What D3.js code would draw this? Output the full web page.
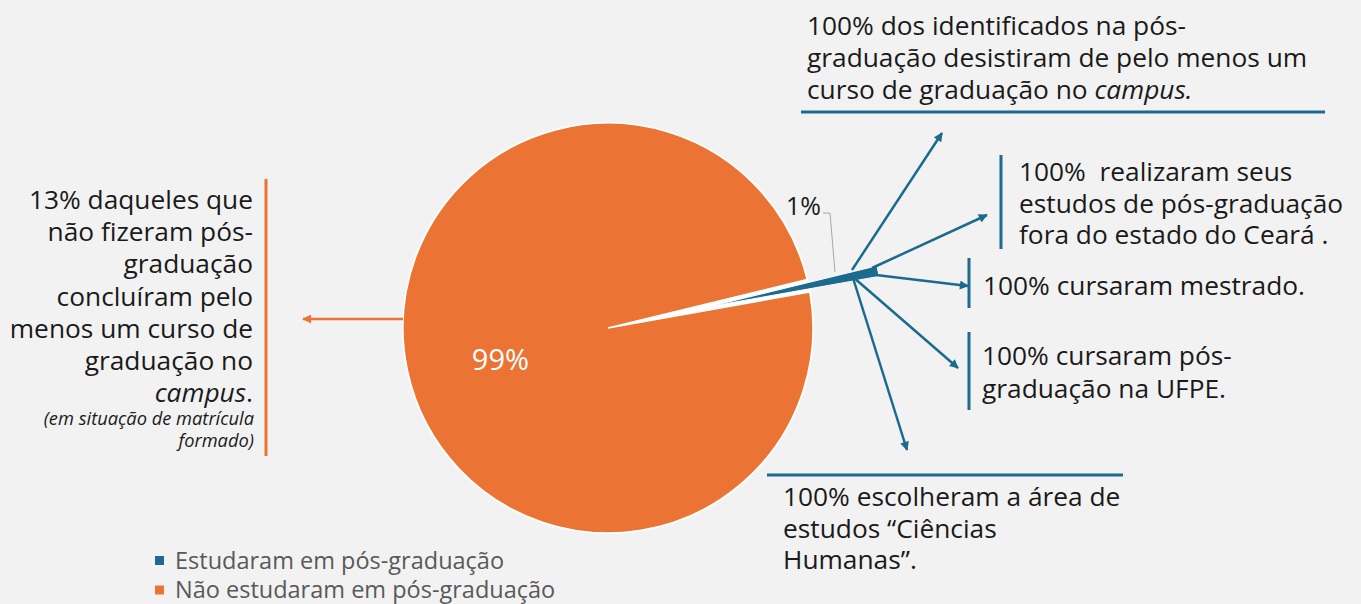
<!DOCTYPE html>
<html>
<head>
<meta charset="utf-8">
<script src="https://cdn.jsdelivr.net/npm/d3@7"></script>
<style>
  html, body { margin: 0; padding: 0; background: #F2F2F2; }
  svg { display: block; font-family: "Open Sans", "Noto Sans", sans-serif; }
  text { white-space: pre; }
</style>
</head>
<body>
<svg id="chart" width="1361" height="604"></svg>
<script>
// ---------- data ----------
const categories = ["Estudaram em pós-graduação", "Não estudaram em pós-graduação"];
const values = [1, 99];
const sliceLabels = ["1%", "99%"];
const colors = ["#1C6A8E", "#EB7333"];

// annotation texts (segments: [text, italic])
const noteTop = [
  [["100% dos identificados na pós-", false]],
  [["graduação desistiram de pelo menos um", false]],
  [["curso de graduação no ", false], ["campus.", true]]
];
const noteCeara = [
  [["100%  realizaram seus", false]],
  [["estudos de pós-graduação", false]],
  [["fora do estado do Ceará .", false]]
];
const noteMestrado = [[["100% cursaram mestrado.", false]]];
const noteUFPE = [
  [["100% cursaram pós-", false]],
  [["graduação na UFPE.", false]]
];
const noteArea = [
  [["100% escolheram a área de", false]],
  [["estudos “Ciências", false]],
  [["Humanas”.", false]]
];
const noteLeft = [
  [["13% daqueles que", false]],
  [["não fizeram pós-", false]],
  [["graduação", false]],
  [["concluíram pelo", false]],
  [["menos um curso de", false]],
  [["graduação no", false]],
  [["campus", true], [".", false]]
];
const noteLeftSmall = ["(em situação de matrícula", "formado)"];

// ---------- drawing ----------
const svg = d3.select("#chart");
const cx = 608, cy = 328, R = 205;
const startA = 76.3 * Math.PI / 180;

const pie = d3.pie().sort(null).value(d => d)
  .startAngle(startA).endAngle(startA + 2 * Math.PI);
const arcs = pie(values);

const g = svg.append("g").attr("transform", `translate(${cx},${cy})`);

// white disc under the pie (visible in the gap left by the exploded slice)
g.append("circle").attr("r", R + 1).attr("fill", "#fff");

const arcMain = d3.arc().innerRadius(0).outerRadius(R);
g.append("path")
  .attr("d", arcMain(arcs[1]))
  .attr("fill", colors[1])
  .attr("stroke", "#fff").attr("stroke-width", 1.5);

// exploded small slice
const blue = arcs[0];
const mid = (blue.startAngle + blue.endAngle) / 2;
const explode = 104;
const ex = Math.sin(mid) * explode, ey = -Math.cos(mid) * explode;
const arcSmall = d3.arc().innerRadius(0).outerRadius(172);
g.append("path")
  .attr("transform", `translate(${ex},${ey})`)
  .attr("d", arcSmall(blue))
  .attr("fill", colors[0])
  .attr("stroke", "#fff").attr("stroke-width", 1);

// 99% label
const orange = arcs[1];
const midO = (orange.startAngle + orange.endAngle) / 2;
g.append("text")
  .attr("x", Math.sin(midO) * 110)
  .attr("y", -Math.cos(midO) * 110)
  .attr("dy", "0.68em")
  .attr("text-anchor", "middle")
  .attr("fill", "#fff")
  .attr("font-size", 29)
  .text(sliceLabels[1]);

// 1% label with leader
svg.append("text")
  .attr("x", 821).attr("y", 215)
  .attr("text-anchor", "end")
  .attr("fill", "#1a1a1a")
  .attr("font-size", 25)
  .text(sliceLabels[0]);
svg.append("polyline")
  .attr("points", "823,213 830,213 835,272")
  .attr("fill", "none").attr("stroke", "#A6A6A6").attr("stroke-width", 1);

// arrow marker
const defs = svg.append("defs");
function marker(id, color) {
  defs.append("marker")
    .attr("id", id)
    .attr("viewBox", "0 0 10 10")
    .attr("refX", 9).attr("refY", 5)
    .attr("markerWidth", 10).attr("markerHeight", 9)
    .attr("markerUnits", "userSpaceOnUse")
    .attr("orient", "auto")
    .append("path").attr("d", "M0,0 L10,5 L0,10 z").attr("fill", color);
}
marker("arrB", colors[0]);
marker("arrO", colors[1]);

// blue arrows from slice
const arrows = [
  [852, 270, 942, 133],
  [872, 268, 987, 215],
  [876, 275, 968, 286],
  [853, 277, 958, 368],
  [853, 278, 907, 450]
];
svg.selectAll("line.arr").data(arrows).join("line")
  .attr("class", "arr")
  .attr("x1", d => d[0]).attr("y1", d => d[1])
  .attr("x2", d => d[2]).attr("y2", d => d[3])
  .attr("stroke", colors[0]).attr("stroke-width", 2.5)
  .attr("marker-end", "url(#arrB)");

// orange arrow to left note
svg.append("line")
  .attr("x1", 403).attr("y1", 319).attr("x2", 303).attr("y2", 319)
  .attr("stroke", colors[1]).attr("stroke-width", 2.5)
  .attr("marker-end", "url(#arrO)");

// text helper
function block(lines, x, y0, lh, anchor, size) {
  const t = svg.append("text")
    .attr("font-size", size).attr("fill", "#1a1a1a")
    .attr("text-anchor", anchor);
  lines.forEach((segs, i) => {
    segs.forEach((s, j) => {
      const ts = t.append("tspan").text(s[0]);
      if (j === 0) ts.attr("x", x).attr("y", y0 + i * lh);
      if (s[1]) ts.attr("font-style", "italic");
    });
  });
  return t;
}

const FS = 26.3;
// top note
block(noteTop, 807, 35, 32, "start", FS);
svg.append("line").attr("x1", 801).attr("x2", 1325).attr("y1", 112).attr("y2", 112)
  .attr("stroke", colors[0]).attr("stroke-width", 3);

// Ceará note
block(noteCeara, 1019, 181, 31.5, "start", FS);
svg.append("line").attr("x1", 1001).attr("x2", 1001).attr("y1", 155).attr("y2", 249)
  .attr("stroke", colors[0]).attr("stroke-width", 3);

// mestrado note
block(noteMestrado, 983, 295, 32, "start", FS);
svg.append("line").attr("x1", 969).attr("x2", 969).attr("y1", 258).attr("y2", 308)
  .attr("stroke", colors[0]).attr("stroke-width", 3);

// UFPE note
block(noteUFPE, 982, 365, 33, "start", FS);
svg.append("line").attr("x1", 969).attr("x2", 969).attr("y1", 332).attr("y2", 410)
  .attr("stroke", colors[0]).attr("stroke-width", 3);

// area note
block(noteArea, 783, 506, 31.5, "start", FS);
svg.append("line").attr("x1", 767).attr("x2", 1123).attr("y1", 475).attr("y2", 475)
  .attr("stroke", colors[0]).attr("stroke-width", 3);

// left note
block(noteLeft, 253, 209, 32.2, "end", FS);
const small = svg.append("text").attr("font-size", 18.3).attr("fill", "#1a1a1a")
  .attr("text-anchor", "end").attr("font-style", "italic");
noteLeftSmall.forEach((s, i) => small.append("tspan").attr("x", 254).attr("y", 425 + i * 22).text(s));
svg.append("line").attr("x1", 266).attr("x2", 266).attr("y1", 179).attr("y2", 456)
  .attr("stroke", colors[1]).attr("stroke-width", 3);

// legend
const leg = svg.append("g").attr("transform", "translate(155,556)");
const li = leg.selectAll("g").data(categories).join("g")
  .attr("transform", (d, i) => `translate(0,${i * 29.5})`);
li.append("rect").attr("width", 9).attr("height", 9).attr("fill", (d, i) => colors[i]);
li.append("text").attr("x", 20).attr("y", 12.5).attr("font-size", 23.5).attr("fill", "#595959").text(d => d);
</script>
</body>
</html>
